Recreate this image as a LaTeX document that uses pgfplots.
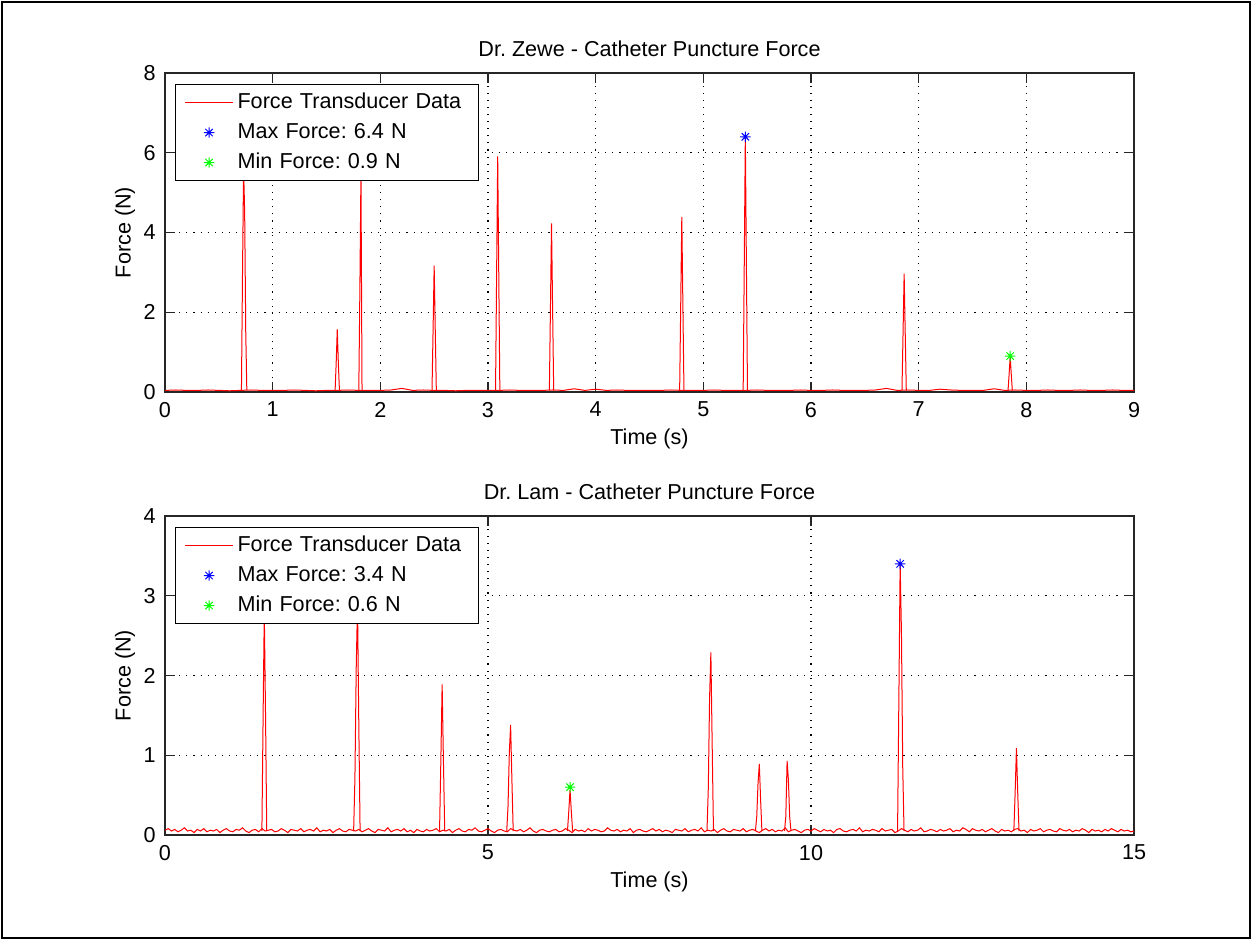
\documentclass[border=0pt]{standalone}
\usepackage{pgfplots}
\usepackage{pgfplotstable}
\pgfplotsset{compat=1.18}
\usepackage{fontspec}
\setmainfont{Liberation Sans}
\frenchspacing

\pgfdeclareplotmark{mstar}{%
  \pgfpathmoveto{\pgfqpoint{0pt}{\pgfplotmarksize}}\pgfpathlineto{\pgfqpoint{0pt}{-\pgfplotmarksize}}%
  \pgfpathmoveto{\pgfqpoint{\pgfplotmarksize}{0pt}}\pgfpathlineto{\pgfqpoint{-\pgfplotmarksize}{0pt}}%
  \pgfpathmoveto{\pgfqpoint{0.707\pgfplotmarksize}{0.707\pgfplotmarksize}}\pgfpathlineto{\pgfqpoint{-0.707\pgfplotmarksize}{-0.707\pgfplotmarksize}}%
  \pgfpathmoveto{\pgfqpoint{0.707\pgfplotmarksize}{-0.707\pgfplotmarksize}}\pgfpathlineto{\pgfqpoint{-0.707\pgfplotmarksize}{0.707\pgfplotmarksize}}%
  \pgfusepathqstroke}

% top baseline, 0.1 s spacing (0 ... 9 s)
\pgfplotstableread[row sep=\\]{
y\\
0.04\\0.05\\0.04\\0.04\\0.05\\0.04\\0.03\\0.04\\0.05\\0.04\\
0.04\\0.04\\0.05\\0.04\\0.03\\0.04\\0.04\\0.05\\0.04\\0.04\\
0.04\\0.05\\0.09\\0.04\\0.05\\0.04\\0.04\\0.03\\0.04\\0.04\\
0.04\\0.04\\0.05\\0.04\\0.04\\0.04\\0.05\\0.04\\0.08\\0.04\\
0.07\\0.04\\0.05\\0.04\\0.04\\0.04\\0.04\\0.05\\0.04\\0.04\\
0.04\\0.05\\0.04\\0.04\\0.04\\0.05\\0.04\\0.04\\0.04\\0.05\\
0.04\\0.04\\0.05\\0.04\\0.04\\0.04\\0.05\\0.09\\0.04\\0.05\\
0.04\\0.04\\0.07\\0.05\\0.04\\0.04\\0.04\\0.08\\0.04\\0.05\\
0.04\\0.04\\0.05\\0.04\\0.04\\0.05\\0.04\\0.04\\0.05\\0.04\\
0.04\\
}\topbase

% bottom baseline, 0.05 s spacing (0 ... 15 s)
\pgfplotstableread[row sep=\\]{
y\\
0.06\\0.08\\0.05\\0.07\\0.04\\0.06\\0.09\\0.05\\0.06\\0.03\\0.07\\0.05\\0.08\\0.04\\0.06\\0.05\\0.07\\0.03\\0.06\\0.08\\
0.05\\0.04\\0.07\\0.06\\0.09\\0.05\\0.03\\0.06\\0.07\\0.04\\0.08\\0.05\\0.06\\0.07\\0.04\\0.05\\0.08\\0.06\\0.03\\0.07\\
0.06\\0.05\\0.08\\0.04\\0.06\\0.07\\0.05\\0.09\\0.04\\0.06\\0.05\\0.07\\0.03\\0.06\\0.08\\0.05\\0.04\\0.07\\0.06\\0.05\\
0.07\\0.04\\0.06\\0.08\\0.05\\0.03\\0.07\\0.06\\0.05\\0.09\\0.04\\0.06\\0.07\\0.05\\0.08\\0.04\\0.06\\0.03\\0.07\\0.05\\
0.04\\0.07\\0.05\\0.06\\0.08\\0.04\\0.06\\0.05\\0.07\\0.03\\0.06\\0.08\\0.05\\0.04\\0.07\\0.06\\0.09\\0.05\\0.04\\0.06\\
0.08\\0.05\\0.03\\0.06\\0.07\\0.05\\0.04\\0.08\\0.06\\0.05\\0.07\\0.04\\0.06\\0.09\\0.05\\0.03\\0.06\\0.07\\0.05\\0.04\\
0.06\\0.07\\0.04\\0.05\\0.08\\0.06\\0.03\\0.07\\0.05\\0.06\\0.04\\0.08\\0.05\\0.07\\0.06\\0.04\\0.05\\0.09\\0.06\\0.05\\
0.07\\0.04\\0.06\\0.05\\0.08\\0.03\\0.06\\0.07\\0.05\\0.04\\0.06\\0.08\\0.05\\0.07\\0.04\\0.06\\0.05\\0.03\\0.07\\0.06\\
0.05\\0.08\\0.04\\0.06\\0.07\\0.05\\0.09\\0.04\\0.06\\0.05\\0.07\\0.03\\0.06\\0.08\\0.05\\0.04\\0.07\\0.06\\0.05\\0.08\\
0.04\\0.06\\0.07\\0.05\\0.03\\0.06\\0.08\\0.05\\0.07\\0.04\\0.06\\0.05\\0.09\\0.04\\0.06\\0.07\\0.05\\0.03\\0.06\\0.07\\
0.05\\0.08\\0.06\\0.04\\0.07\\0.05\\0.06\\0.03\\0.07\\0.08\\0.05\\0.04\\0.06\\0.07\\0.05\\0.09\\0.04\\0.06\\0.05\\0.07\\
0.06\\0.04\\0.08\\0.05\\0.06\\0.07\\0.03\\0.05\\0.08\\0.06\\0.04\\0.07\\0.05\\0.06\\0.09\\0.04\\0.05\\0.07\\0.06\\0.04\\
0.07\\0.05\\0.06\\0.08\\0.04\\0.06\\0.05\\0.09\\0.07\\0.04\\0.08\\0.06\\0.05\\0.07\\0.04\\0.06\\0.08\\0.05\\0.03\\0.07\\
0.05\\0.06\\0.04\\0.07\\0.08\\0.05\\0.06\\0.03\\0.07\\0.05\\0.06\\0.08\\0.04\\0.06\\0.07\\0.05\\0.04\\0.08\\0.06\\0.05\\
0.07\\0.04\\0.06\\0.05\\0.08\\0.06\\0.03\\0.07\\0.05\\0.06\\0.04\\0.07\\0.05\\0.08\\0.06\\0.04\\0.07\\0.05\\0.06\\0.04\\
0.05\\
}\botbase

\pgfplotsset{
  mlab/.style={
    scale only axis, width=484.5pt, height=159.5pt,
    font=\fontsize{10.8}{13}\selectfont\frenchspacing,
    /pgf/number format/assume math mode=true,
    axis line style={black!85, line width=0.55pt},
    tick align=inside, tick pos=both, major tick length=4.85pt,
    every tick/.style={black!85, line width=0.55pt},
    grid=major,
    major grid style={black, line width=0.55pt, dash pattern=on 0.55pt off 3pt},
    yticklabel style={xshift=-1.2pt},
    xticklabel style={yshift=-1.5pt},
    title style={at={(axis description cs:0.5,1)}, anchor=center, yshift=6pt},
    xlabel style={at={(axis description cs:0.5,0)}, anchor=center, yshift=-23.5pt},
    ylabel style={at={(axis description cs:-0.0413,0.5)}, anchor=center, rotate=0},
    legend cell align=left,
    legend style={at={(axis description cs:0,1)}, anchor=north west, xshift=5pt, yshift=-5.5pt,
      draw=black, line width=0.55pt, fill=white, inner xsep=4.5pt, inner ysep=1.5pt,
      row sep=0pt, column sep=1pt,
      nodes={inner xsep=1pt, inner ysep=0pt, minimum height=15pt, text width=115pt, align=left,
        font=\fontsize{10.8}{13}\selectfont\frenchspacing}},
  },
  redline/.style={red, line width=0.5pt, no markers,
    legend image code/.code={\draw[##1] (0pt,0pt) -- (24pt,0pt);}},
  spike/.style={red, line width=0.5pt, no markers, forget plot},
  starmark/.style={only marks, mark=mstar, mark size=2.6pt, line width=0.5pt,
    legend image code/.code={\draw[##1] plot coordinates {(12pt,0pt)};}},
}

\begin{document}
\frenchspacing
\begin{tikzpicture}
\useasboundingbox (0pt,0pt) rectangle (626pt,470pt);
\draw[black, line width=1.2pt] (1pt,1pt) rectangle (625pt,469pt);

\begin{axis}[mlab, at={(82.5pt,274pt)}, anchor=south west,
  xmin=0, xmax=9, ymin=0, ymax=8, xtick={0,1,...,9}, ytick={0,2,4,6,8},
  title={Dr. Zewe - Catheter Puncture Force}, xlabel={Time (s)}, ylabel={Force (N)}]
\addplot[redline] table[x expr=\coordindex*0.1, y=y] {\topbase};
\addlegendentry{Force Transducer Data}
\addplot[spike] coordinates {(0.71,0.04)(0.72,3.0)(0.73,5.6)(0.74,4.5)(0.75,1.5)(0.76,0.04)};
\addplot[spike] coordinates {(1.58,0.04)(1.59,0.73)(1.60,1.57)(1.61,0.73)(1.62,0.04)};
\addplot[spike] coordinates {(1.80,0.04)(1.81,2.57)(1.82,5.5)(1.83,0.04)};
\addplot[spike] coordinates {(2.48,0.04)(2.49,1.57)(2.50,3.17)(2.51,1.57)(2.52,0.04)};
\addplot[spike] coordinates {(3.07,0.04)(3.08,2.95)(3.09,5.91)(3.10,2.95)(3.11,0.04)};
\addplot[spike] coordinates {(3.57,0.04)(3.58,2.11)(3.59,4.23)(3.60,2.11)(3.61,0.04)};
\addplot[spike] coordinates {(4.78,0.04)(4.79,2.2)(4.80,4.39)(4.81,2.2)(4.82,0.04)};
\addplot[spike] coordinates {(5.37,0.04)(5.38,3.17)(5.39,6.4)(5.40,3.17)(5.41,0.04)};
\addplot[spike] coordinates {(6.845,0.04)(6.855,1.49)(6.865,2.97)(6.875,1.49)(6.885,0.04)};
\addplot[spike] coordinates {(7.83,0.04)(7.84,0.44)(7.85,0.89)(7.86,0.44)(7.87,0.04)};
\addplot[starmark, blue] coordinates {(5.39,6.4)};
\addlegendentry{Max Force: 6.4 N}
\addplot[starmark, green] coordinates {(7.85,0.9)};
\addlegendentry{Min Force: 0.9 N}
\end{axis}

\begin{axis}[mlab, at={(82.5pt,52.5pt)}, anchor=south west,
  xmin=0, xmax=15, ymin=0, ymax=4, xtick={0,5,10,15}, ytick={0,1,2,3,4},
  title={Dr. Lam - Catheter Puncture Force}, xlabel={Time (s)}, ylabel={Force (N)}]
\addplot[redline] table[x expr=\coordindex*0.05, y=y] {\botbase};
\addlegendentry{Force Transducer Data}
\addplot[spike] coordinates {(1.50,0.05)(1.52,1.59)(1.537,2.8)(1.555,1.59)(1.575,0.05)};
\addplot[spike] coordinates {(2.92,0.05)(2.94,0.71)(2.96,2.09)(2.98,2.9)(3.00,1.39)(3.02,0.05)};
\addplot[spike] coordinates {(4.25,0.05)(4.27,0.93)(4.29,1.89)(4.31,0.93)(4.33,0.05)};
\addplot[spike] coordinates {(5.29,0.05)(5.31,0.36)(5.33,1.03)(5.35,1.38)(5.37,0.69)(5.39,0.05)};
\addplot[spike] coordinates {(6.23,0.05)(6.25,0.29)(6.27,0.57)(6.29,0.29)(6.31,0.05)};
\addplot[spike] coordinates {(8.39,0.05)(8.41,0.58)(8.43,1.72)(8.45,2.29)(8.47,1.14)(8.49,0.05)};
\addplot[spike] coordinates {(9.14,0.05)(9.16,0.23)(9.18,0.65)(9.20,0.89)(9.22,0.44)(9.24,0.05)};
\addplot[spike] coordinates {(9.59,0.05)(9.61,0.23)(9.63,0.93)(9.65,0.69)(9.67,0.23)(9.69,0.05)};
\addplot[spike] coordinates {(11.34,0.05)(11.36,1.70)(11.38,3.41)(11.40,2.54)(11.42,0.85)(11.44,0.05)};
\addplot[spike] coordinates {(13.14,0.05)(13.16,0.53)(13.18,1.09)(13.20,0.53)(13.22,0.05)};
\addplot[starmark, blue] coordinates {(11.38,3.4)};
\addlegendentry{Max Force: 3.4 N}
\addplot[starmark, green] coordinates {(6.27,0.6)};
\addlegendentry{Min Force: 0.6 N}
\end{axis}
\end{tikzpicture}
\end{document}
